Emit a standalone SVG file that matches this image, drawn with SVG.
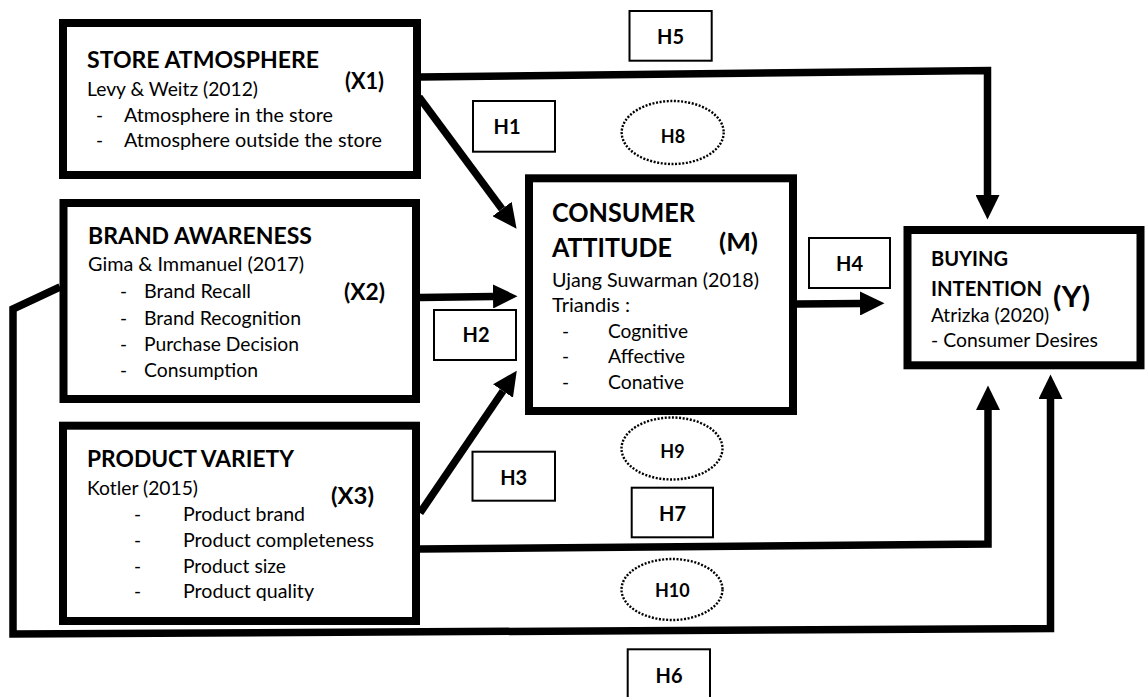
<svg xmlns="http://www.w3.org/2000/svg" width="1145" height="697" viewBox="0 0 1145 697">
<style>
.box{fill:#fff;stroke:#000;stroke-width:8}
.hb{fill:#fff;stroke:#000;stroke-width:2}
.he{fill:#fff;stroke:#000;stroke-width:2.4;stroke-dasharray:2 1.6}
.conn{fill:none;stroke:#000;stroke-width:7.5;stroke-linejoin:miter}
text{font-family:Lato,"Liberation Sans",sans-serif;fill:#000}
.r{font-size:19px}
.hd{font-size:23px;font-weight:700}
.x{font-size:22px;font-weight:700}
.lbl{font-size:20px;font-weight:700;text-anchor:middle}
.sm{font-size:18px;font-weight:700;text-anchor:middle}
</style>
<defs>
<marker id="arr" markerUnits="userSpaceOnUse" markerWidth="25" markerHeight="24" refX="0" refY="12" orient="auto" viewBox="0 0 25 24">
<path d="M0,0 L24.5,12 L0,24 Z" fill="#000"/>
</marker>
</defs>
<rect width="1145" height="697" fill="#fff"/>

<g id="connectors">
<path id="c-h1" class="conn" d="M419,97 L502,209" marker-end="url(#arr)"/>
<path id="c-h2" class="conn" d="M420,297.5 L493,296.5" marker-end="url(#arr)"/>
<path id="c-h3" class="conn" d="M420,513 L503,391" marker-end="url(#arr)"/>
<path id="c-h4" class="conn" d="M797,304 L860,303.5" marker-end="url(#arr)"/>
<path id="c-h5" class="conn" d="M420,77 L987.5,70.5 L987.5,195" marker-end="url(#arr)"/>
<path id="c-h7" class="conn" d="M420,549 L988,544 L988,410" marker-end="url(#arr)"/>
<path id="c-h6" class="conn" d="M60,287 L13,309 L13,634 L1050.5,628.5 L1050.5,399" marker-end="url(#arr)"/>
</g>

<g id="store-atmosphere">
<rect class="box" x="63" y="23" width="354" height="152"/>
<text class="hd" x="87" y="68" textLength="232" lengthAdjust="spacingAndGlyphs">STORE ATMOSPHERE</text>
<text class="r" x="87" y="96" textLength="171" lengthAdjust="spacingAndGlyphs">Levy &amp; Weitz (2012)</text>
<text class="x" x="345" y="89" textLength="39" lengthAdjust="spacingAndGlyphs">(X1)</text>
<text class="r" x="96" y="122">-</text>
<text class="r" x="124" y="122" textLength="209" lengthAdjust="spacingAndGlyphs">Atmosphere in the store</text>
<text class="r" x="96" y="147">-</text>
<text class="r" x="124" y="147" textLength="258" lengthAdjust="spacingAndGlyphs">Atmosphere outside the store</text>
</g>

<g id="brand-awareness">
<rect class="box" x="63.5" y="203" width="352.5" height="196"/>
<text class="hd" x="88" y="244" textLength="224" lengthAdjust="spacingAndGlyphs">BRAND AWARENESS</text>
<text class="r" x="88" y="271" textLength="216" lengthAdjust="spacingAndGlyphs">Gima &amp; Immanuel (2017)</text>
<text class="x" x="344" y="300" textLength="41" lengthAdjust="spacingAndGlyphs">(X2)</text>
<text class="r" x="120" y="298">-</text>
<text class="r" x="144" y="298" textLength="107" lengthAdjust="spacingAndGlyphs">Brand Recall</text>
<text class="r" x="120" y="325">-</text>
<text class="r" x="144" y="325" textLength="157" lengthAdjust="spacingAndGlyphs">Brand Recognition</text>
<text class="r" x="120" y="351">-</text>
<text class="r" x="144" y="351" textLength="155" lengthAdjust="spacingAndGlyphs">Purchase Decision</text>
<text class="r" x="120" y="377">-</text>
<text class="r" x="144" y="377" textLength="114" lengthAdjust="spacingAndGlyphs">Consumption</text>
</g>

<g id="product-variety">
<rect class="box" x="63" y="425.7" width="353" height="195.3"/>
<text class="hd" x="87" y="467" textLength="207" lengthAdjust="spacingAndGlyphs">PRODUCT VARIETY</text>
<text class="r" x="87" y="495" textLength="111" lengthAdjust="spacingAndGlyphs">Kotler (2015)</text>
<text class="x" x="331" y="504" textLength="43" lengthAdjust="spacingAndGlyphs">(X3)</text>
<text class="r" x="134" y="521">-</text>
<text class="r" x="183" y="521" textLength="122" lengthAdjust="spacingAndGlyphs">Product brand</text>
<text class="r" x="134" y="547">-</text>
<text class="r" x="183" y="547" textLength="191" lengthAdjust="spacingAndGlyphs">Product completeness</text>
<text class="r" x="134" y="573">-</text>
<text class="r" x="183" y="573" textLength="103" lengthAdjust="spacingAndGlyphs">Product size</text>
<text class="r" x="134" y="598">-</text>
<text class="r" x="183" y="598" textLength="131" lengthAdjust="spacingAndGlyphs">Product quality</text>
</g>

<g id="consumer-attitude">
<rect class="box" x="529" y="178.3" width="264" height="232.7"/>
<text x="552" y="222" font-size="26" font-weight="700" textLength="143" lengthAdjust="spacingAndGlyphs">CONSUMER</text>
<text x="552" y="257" font-size="26" font-weight="700" textLength="120" lengthAdjust="spacingAndGlyphs">ATTITUDE</text>
<text x="719" y="251" font-size="24" font-weight="700" textLength="39" lengthAdjust="spacingAndGlyphs">(M)</text>
<text class="r" x="552" y="287" textLength="207" lengthAdjust="spacingAndGlyphs">Ujang Suwarman (2018)</text>
<text class="r" x="552" y="312" textLength="78" lengthAdjust="spacingAndGlyphs">Triandis :</text>
<text class="r" x="562" y="338">-</text>
<text class="r" x="608" y="338" textLength="80" lengthAdjust="spacingAndGlyphs">Cognitive</text>
<text class="r" x="562" y="363">-</text>
<text class="r" x="608" y="363" textLength="77" lengthAdjust="spacingAndGlyphs">Affective</text>
<text class="r" x="562" y="389">-</text>
<text class="r" x="608" y="389" textLength="76" lengthAdjust="spacingAndGlyphs">Conative</text>
</g>

<g id="buying-intention">
<rect class="box" x="907.5" y="230" width="233" height="135.3"/>
<text x="931" y="266" font-size="21" font-weight="700" textLength="77" lengthAdjust="spacingAndGlyphs">BUYING</text>
<text x="931" y="296" font-size="21" font-weight="700" textLength="111" lengthAdjust="spacingAndGlyphs">INTENTION</text>
<text x="1053" y="307" font-size="29" font-weight="700" textLength="37" lengthAdjust="spacingAndGlyphs">(Y)</text>
<text class="r" x="931" y="322" textLength="118" lengthAdjust="spacingAndGlyphs">Atrizka (2020)</text>
<text class="r" x="931" y="347" textLength="167" lengthAdjust="spacingAndGlyphs">- Consumer Desires</text>
</g>

<g id="H1"><rect class="hb" x="473" y="101" width="82" height="50.7"/><text class="lbl" x="507" y="134">H1</text></g>
<g id="H2"><rect class="hb" x="434" y="310" width="82" height="50"/><text class="lbl" x="476" y="342">H2</text></g>
<g id="H3"><rect class="hb" x="472.5" y="451.7" width="82.5" height="49"/><text class="lbl" x="513.7" y="485">H3</text></g>
<g id="H4"><rect class="hb" x="809" y="238" width="81" height="50"/><text class="lbl" x="849.5" y="270.5">H4</text></g>
<g id="H5"><rect class="hb" x="629.5" y="11" width="82.2" height="49.7"/><text class="lbl" x="670.6" y="43.5">H5</text></g>
<g id="H6"><rect class="hb" x="627.7" y="649.3" width="82.3" height="60"/><text class="lbl" x="669" y="683">H6</text></g>
<g id="H7"><rect class="hb" x="631.7" y="487.7" width="81.3" height="49.6"/><text class="lbl" x="672.5" y="520.7">H7</text></g>
<g id="H8"><ellipse class="he" cx="672.7" cy="132.5" rx="51" ry="31.5"/><text class="sm" x="673" y="143">H8</text></g>
<g id="H9"><ellipse class="he" cx="672" cy="448.5" rx="50.5" ry="31"/><text class="sm" x="672.5" y="458">H9</text></g>
<g id="H10"><ellipse class="he" cx="672" cy="589.5" rx="50.5" ry="30.5"/><text class="sm" x="672.3" y="597" font-size="16.5">H10</text></g>
</svg>
